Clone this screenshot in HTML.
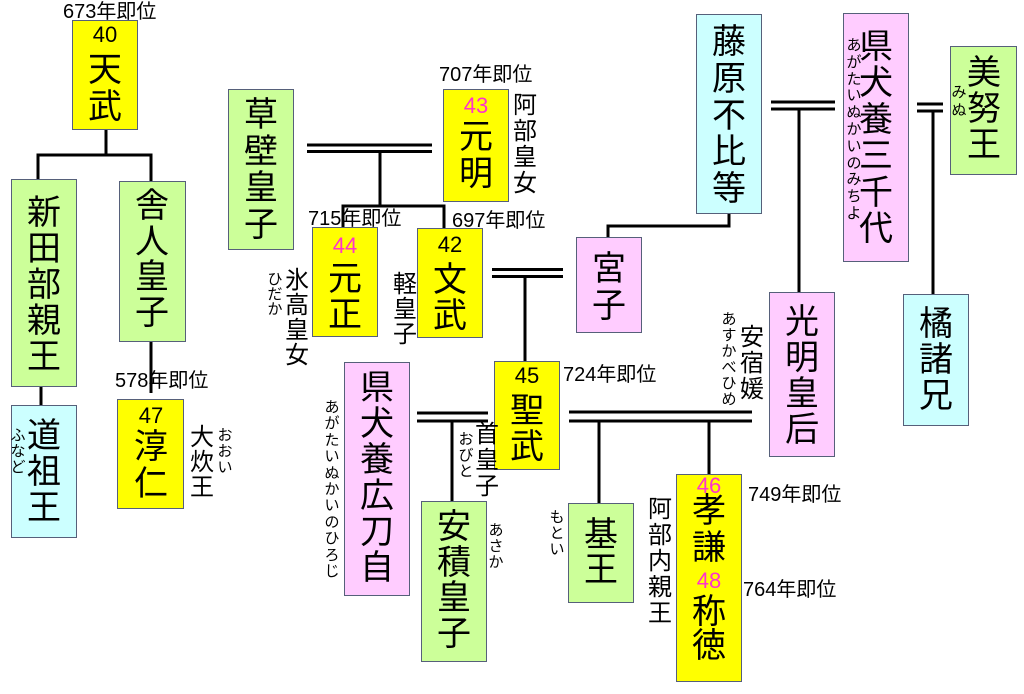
<!DOCTYPE html>
<html><head><meta charset="utf-8">
<style>
html,body{margin:0;padding:0;background:#fff;}
body{width:1024px;height:694px;position:relative;overflow:hidden;font-family:"Liberation Sans","Noto Sans CJK JP",sans-serif;color:#000;}
.b{position:absolute;box-sizing:border-box;border:1.5px solid #56607a;}
.Y{background:#ffff00;}
.G{background:#ccff99;}
.C{background:#ccffff;}
.P{background:#ffccff;}
.k{position:absolute;width:60px;text-align:center;font-size:34px;white-space:nowrap;}
.s{position:absolute;width:30px;text-align:center;font-size:24px;line-height:26px;white-space:nowrap;}
.r{position:absolute;width:20px;text-align:center;font-size:15px;line-height:16px;white-space:nowrap;}
.n{position:absolute;width:60px;text-align:center;font-size:22px;line-height:24px;}
.m{color:#ff33cc;}
.l{position:absolute;font-size:20px;line-height:22px;white-space:nowrap;}
svg{position:absolute;left:0;top:0;}
</style></head><body>

<div class="b Y" style="left:72px;top:20px;width:66px;height:110px"></div>
<div class="b G" style="left:11px;top:179px;width:66px;height:208px"></div>
<div class="b G" style="left:119px;top:181px;width:67px;height:161px"></div>
<div class="b C" style="left:11px;top:405px;width:66px;height:133px"></div>
<div class="b Y" style="left:117px;top:399px;width:67px;height:110px"></div>
<div class="b G" style="left:228px;top:89px;width:66px;height:161px"></div>
<div class="b Y" style="left:443px;top:89px;width:66px;height:113px"></div>
<div class="b Y" style="left:312px;top:227px;width:66px;height:110px"></div>
<div class="b Y" style="left:417px;top:228px;width:66px;height:110px"></div>
<div class="b P" style="left:576px;top:237px;width:66px;height:96px"></div>
<div class="b C" style="left:696px;top:14px;width:66px;height:200px"></div>
<div class="b P" style="left:843px;top:13px;width:66px;height:249px"></div>
<div class="b G" style="left:950px;top:46px;width:67px;height:129px"></div>
<div class="b P" style="left:769px;top:292px;width:66px;height:165px"></div>
<div class="b C" style="left:903px;top:294px;width:66px;height:132px"></div>
<div class="b P" style="left:344px;top:362px;width:66px;height:234px"></div>
<div class="b Y" style="left:494px;top:361px;width:66px;height:109px"></div>
<div class="b G" style="left:421px;top:501px;width:66px;height:161px"></div>
<div class="b G" style="left:568px;top:503px;width:66px;height:100px"></div>
<div class="b Y" style="left:676px;top:474px;width:66px;height:208px"></div>

<!-- box kanji -->
<div class="k" style="left:75px;top:52px;line-height:37px">天<br>武</div>
<div class="k" style="left:14px;top:195px;line-height:36px">新<br>田<br>部<br>親<br>王</div>
<div class="k" style="left:122px;top:189px;line-height:35.5px">舎<br>人<br>皇<br>子</div>
<div class="k" style="left:14px;top:418px;line-height:36px">道<br>祖<br>王</div>
<div class="k" style="left:121px;top:429px;line-height:37px">淳<br>仁</div>
<div class="k" style="left:231px;top:97px;line-height:36.5px">草<br>壁<br>皇<br>子</div>
<div class="k" style="left:446px;top:119px;line-height:37px">元<br>明</div>
<div class="k" style="left:315px;top:261px;line-height:36px">元<br>正</div>
<div class="k" style="left:420px;top:262px;line-height:36px">文<br>武</div>
<div class="k" style="left:579px;top:251px;line-height:37px">宮<br>子</div>
<div class="k" style="left:699px;top:24px;line-height:36.8px">藤<br>原<br>不<br>比<br>等</div>
<div class="k" style="left:846px;top:29px;line-height:36.4px">県<br>犬<br>養<br>三<br>千<br>代</div>
<div class="k" style="left:954px;top:55px;line-height:36px">美<br>努<br>王</div>
<div class="k" style="left:772px;top:304px;line-height:36px">光<br>明<br>皇<br>后</div>
<div class="k" style="left:906px;top:306px;line-height:36px">橘<br>諸<br>兄</div>
<div class="k" style="left:347px;top:370px;line-height:36px">県<br>犬<br>養<br>広<br>刀<br>自</div>
<div class="k" style="left:497px;top:393px;line-height:36px">聖<br>武</div>
<div class="k" style="left:424px;top:510px;line-height:35.7px">安<br>積<br>皇<br>子</div>
<div class="k" style="left:571px;top:518px;line-height:35px">基<br>王</div>
<div class="k" style="left:679px;top:493px;line-height:37px">孝<br>謙</div>
<div class="k" style="left:679px;top:595px;line-height:34px">称<br>徳</div>

<!-- numbers -->
<div class="n" style="left:75px;top:23px">40</div>
<div class="n" style="left:121px;top:404px">47</div>
<div class="n m" style="left:446px;top:94px">43</div>
<div class="n m" style="left:315px;top:234px">44</div>
<div class="n" style="left:420px;top:233px">42</div>
<div class="n" style="left:497px;top:364px">45</div>
<div class="n m" style="left:679px;top:474px">46</div>
<div class="n m" style="left:679px;top:569px">48</div>

<!-- side labels -->
<div class="s" style="left:510px;top:93px">阿<br>部<br>皇<br>女</div>
<div class="s" style="left:282px;top:268px;line-height:25px">氷<br>高<br>皇<br>女</div>
<div class="s" style="left:390px;top:272px;line-height:25px">軽<br>皇<br>子</div>
<div class="s" style="left:187px;top:425px;line-height:25px">大<br>炊<br>王</div>
<div class="s" style="left:737px;top:325px">安<br>宿<br>媛</div>
<div class="s" style="left:472px;top:422px">首<br>皇<br>子</div>
<div class="s" style="left:645px;top:497px">阿<br>部<br>内<br>親<br>王</div>

<!-- ruby -->
<div class="r" style="left:8px;top:428px">ふ<br>な<br>ど</div>
<div class="r" style="left:215px;top:428px">お<br>お<br>い</div>
<div class="r" style="left:265px;top:272px;line-height:15px">ひ<br>だ<br>か</div>
<div class="r" style="left:844px;top:38px;line-height:16.8px">あ<br>が<br>た<br>い<br>ぬ<br>か<br>い<br>の<br>み<br>ち<br>よ</div>
<div class="r" style="left:949px;top:84px;line-height:18px">み<br>ぬ</div>
<div class="r" style="left:719px;top:312px">あ<br>す<br>か<br>べ<br>ひ<br>め</div>
<div class="r" style="left:322px;top:400px;line-height:16.4px">あ<br>が<br>た<br>い<br>ぬ<br>か<br>い<br>の<br>ひ<br>ろ<br>じ</div>
<div class="r" style="left:456px;top:432px">お<br>び<br>と</div>
<div class="r" style="left:486px;top:523px">あ<br>さ<br>か</div>
<div class="r" style="left:547px;top:510px">も<br>と<br>い</div>

<!-- year labels -->
<div class="l" style="left:63px;top:1px">673年即位</div>
<div class="l" style="left:115px;top:370px">578年即位</div>
<div class="l" style="left:439px;top:64px">707年即位</div>
<div class="l" style="left:308px;top:208px">715年即位</div>
<div class="l" style="left:452px;top:210px">697年即位</div>
<div class="l" style="left:563px;top:364px">724年即位</div>
<div class="l" style="left:748px;top:484px">749年即位</div>
<div class="l" style="left:743px;top:579px">764年即位</div>

<svg width="1024" height="694" viewBox="0 0 1024 694">
<g fill="none" stroke="#000" stroke-width="3">
<path d="M106 130V155"/>
<path d="M38 179V155H151V181"/>
<path d="M41 387V405"/>
<path d="M151 342V393"/>
<path d="M307 145H432M307 151.5H432"/>
<path d="M380 151.5V206"/>
<path d="M343 227V206H444V228"/>
<path d="M492 269.5H563M492 276.5H563"/>
<path d="M525 276.5V361"/>
<path d="M729 214V226H608V237"/>
<path d="M771 102H835M771 109H835"/>
<path d="M799 109V292"/>
<path d="M917 104H943M917 111H943"/>
<path d="M933 111V294"/>
<path d="M417 413H488M417 421H488"/>
<path d="M452 421V501"/>
<path d="M569 412H752M569 421H752"/>
<path d="M599 421V503"/>
<path d="M709 421V474"/>
</g>
</svg>
</body></html>
